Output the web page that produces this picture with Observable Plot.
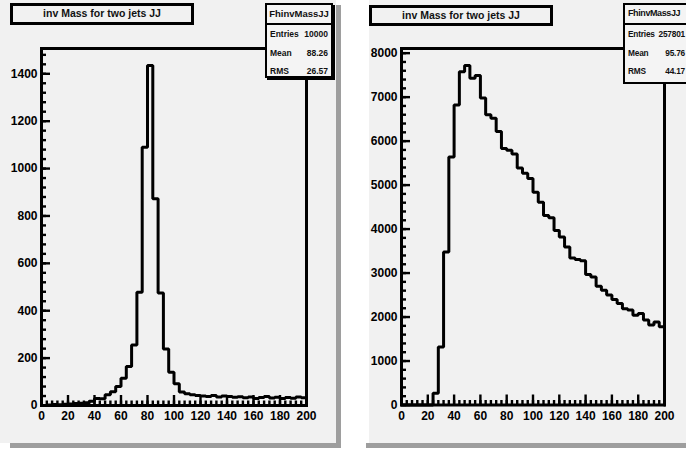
<!DOCTYPE html>
<html>
<head>
<meta charset="utf-8">
<script src="https://cdn.jsdelivr.net/npm/d3@7"></script>
<script src="https://cdn.jsdelivr.net/npm/@observablehq/plot@0.6"></script>
<style>
  body { margin: 0; background: #ffffff; }
  #wrap { position: relative; width: 686px; height: 450px; overflow: hidden; font-family: "Liberation Sans", Arial, sans-serif; }
  .panel { position: absolute; background: #f1f1f1; }
  .shadow { position: absolute; background: #9e9e9e; }
  .plot { position: absolute; top: 0; }
  .title { position: absolute; border: 3px solid #000; background: #f1f1f1; box-sizing: border-box;
           text-align: center; font-weight: bold; font-size: 10.5px; line-height: 15px; color: #111; }
  .stats { position: absolute; border: 2px solid #000; box-shadow: 2px 2px 0 #000; background: #f4f4f4;
           box-sizing: border-box; font-weight: bold; font-size: 8.5px; color: #111; overflow: hidden; }
  .stats .hd { text-align: center; border-bottom: 2px solid #000; height: 18px; line-height: 17px; font-size: 9.5px; white-space: nowrap; }
  .stats .row { display: flex; justify-content: space-between; height: 18.5px; line-height: 18.5px; padding: 0 3px 0 3px; white-space: nowrap; }
  #statsR .hd { text-align: left; padding-left: 3px; font-size: 9px; letter-spacing: -0.4px; }
  #statsR .row { font-size: 8.3px; padding: 0 1px 0 3px; gap: 3px; letter-spacing: -0.2px; }
</style>
</head>
<body>
<div id="wrap">
  <div class="shadow" style="left:10px; top:5px; width:331px; height:443px;"></div>
  <div class="panel" style="left:0px; top:0px; width:336px; height:443px;"></div>
  <div class="shadow" style="left:366px; top:443px; width:330px; height:5px;"></div>
  <div class="panel" style="left:369px; top:0px; width:330px; height:443px;"></div>
  <div id="plotL" class="plot" style="left:0px;"></div>
  <div id="plotR" class="plot" style="left:360px;"></div>
  <div id="titleL" class="title" style="left:10px; top:3px; width:184px; height:22px;"></div>
  <div id="titleR" class="title" style="left:369px; top:5px; width:184px; height:21px;"></div>
  <div id="statsL" class="stats" style="left:265px; top:3px; width:68px; height:75px;"></div>
  <div id="statsR" class="stats" style="left:623px; top:3px; width:63px; height:81px; border-right:none; box-shadow:none;"></div>
</div>
<script>
// ---- data ----
const titleText = "inv Mass for two jets JJ";
const histName = "FhinvMassJJ";
const binWidth = 4;            // GeV per bin, 50 bins over 0..200
const xRange = [0, 200];

// left histogram: counts per bin (bin lower edges 0,4,...,196)
const leftCounts = [
  0, 2, 4, 3, 5, 6, 8, 10, 12, 18,
  30, 28, 45, 58, 80, 115, 165, 255, 478, 1090,
  1435, 873, 475, 238, 140, 92, 57, 50, 45, 42,
  40, 38, 42, 36, 40, 38, 35, 37, 33, 36,
  30, 34, 38, 32, 35, 30, 34, 31, 36, 33
];
// right histogram: counts per bin
const rightCounts = [
  0, 0, 0, 0, 0, 0, 265, 1320, 3480, 5640,
  6820, 7580, 7720, 7430, 7490, 6980, 6600, 6520, 6220, 5830,
  5790, 5710, 5390, 5270, 5150, 4840, 4610, 4310, 4260, 3970,
  3820, 3590, 3340, 3310, 3280, 2970, 2910, 2700, 2610, 2500,
  2400, 2310, 2190, 2160, 2040, 2080, 1930, 1820, 1890, 1780
];
const leftStats = [["Entries", "10000"], ["Mean", "88.26"], ["RMS", "26.57"]];
const rightStats = [["Entries", "257801"], ["Mean", "95.76"], ["RMS", "44.17"]];

const xMajor = d3.range(0, 201, 20);
const xMinor = d3.range(0, 201, 4);
const leftYMajor = d3.range(0, 1401, 200);
const leftYMinor = d3.range(0, 1501, 40);
const rightYMajor = d3.range(0, 8001, 1000);
const rightYMinor = d3.range(0, 8101, 200);

// ---- helpers ----
function stepData(counts) {
  const pts = counts.map((v, i) => ({x: xRange[0] + i * binWidth, y: v}));
  pts.push({x: xRange[1], y: counts[counts.length - 1]});
  pts.push({x: xRange[1], y: 0});
  return [{x: xRange[0], y: 0}, ...pts];
}

function histPlot(counts, yMajor, yMinor, opts) {
  const ymax = d3.max(counts) * 1.05;
  return Plot.plot({
    width: opts.width,
    height: 450,
    marginLeft: 41,
    marginRight: opts.marginRight,
    marginTop: 48,
    marginBottom: opts.marginBottom,
    style: {background: "transparent", fontFamily: "'Liberation Sans', Arial, sans-serif", fontSize: "12px", fontWeight: "bold", color: "#000", overflow: "visible"},
    x: {domain: xRange, label: null},
    y: {domain: [0, ymax], label: null},
    marks: [
      Plot.line(stepData(counts), {x: "x", y: "y", curve: "step-after", stroke: "#000", strokeWidth: 3, strokeLinejoin: "miter"}),
      Plot.ruleX(xMinor, {x: d => d, y1: () => 0, y2: () => 0, insetBottom: 4.5, stroke: "#000", strokeWidth: 2.4}),
      Plot.ruleX(xMajor, {x: d => d, y1: () => 0, y2: () => 0, insetBottom: 10, stroke: "#000", strokeWidth: 2.4}),
      Plot.ruleY(yMinor.filter(v => v <= ymax), {y: d => d, x1: () => xRange[0], x2: () => xRange[0], insetRight: -5, stroke: "#000", strokeWidth: 2.4}),
      Plot.ruleY(yMajor, {y: d => d, x1: () => xRange[0], x2: () => xRange[0], insetRight: -9, stroke: "#000", strokeWidth: 2.4}),
      Plot.frame({stroke: "#000", strokeWidth: 3}),
      Plot.axisX({ticks: xMajor, tickSize: 0, tickPadding: 6, tickFormat: "d", label: null, fontWeight: "bold", fontSize: 12}),
      Plot.axisY({ticks: yMajor, tickSize: 0, tickPadding: 4, tickFormat: "d", label: null, fontWeight: "bold", fontSize: 12})
    ]
  });
}

document.getElementById("plotL").append(histPlot(leftCounts, leftYMajor, leftYMinor, {width: 340, marginRight: 34, marginBottom: 45}));
document.getElementById("plotR").append(histPlot(rightCounts, rightYMajor, rightYMinor, {width: 326, marginRight: 22, marginBottom: 45.5}));

function fillTitle(id) { document.getElementById(id).textContent = titleText; }
fillTitle("titleL"); fillTitle("titleR");

function fillStats(id, rows) {
  const el = document.getElementById(id);
  const hd = document.createElement("div");
  hd.className = "hd"; hd.textContent = histName; el.append(hd);
  for (const [k, v] of rows) {
    const r = document.createElement("div");
    r.className = "row";
    const a = document.createElement("span"); a.textContent = k;
    const b = document.createElement("span"); b.textContent = v;
    r.append(a, b); el.append(r);
  }
}
fillStats("statsL", leftStats);
fillStats("statsR", rightStats);
</script>
</body>
</html>
